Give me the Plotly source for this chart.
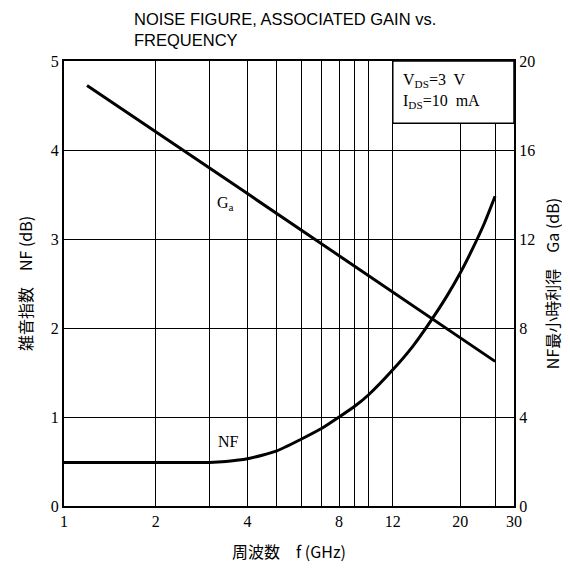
import math
import plotly.graph_objects as go

# ---- data ----
nf_freq = [1, 2, 3, 3.4, 4, 5, 6, 7, 8, 9, 10, 12, 14, 16, 18, 20, 22, 24, 26]
nf_db = [0.49, 0.49, 0.49, 0.5, 0.53, 0.62, 0.75, 0.87, 1.0, 1.12, 1.25, 1.53,
         1.8, 2.08, 2.35, 2.62, 2.9, 3.18, 3.48]

ga_freq = [1.19, 2, 4, 8, 12, 20, 26]
ga_db = [18.9, 16.83, 14.04, 11.25, 9.62, 7.57, 6.5]

label_freq = [1, 2, 4, 8, 12, 20, 30]
extra_grid_freq = [3, 5, 6, 7, 9, 10, 26]
nf_ticks = [0, 1, 2, 3, 4, 5]
ga_ticks = [0, 4, 8, 12, 16, 20]

SERIF = "Liberation Serif, DejaVu Serif, serif"
SANS = "Liberation Sans, Arial, sans-serif"
JP = "Noto Sans CJK JP, sans-serif"

fig = go.Figure()
fig.add_trace(go.Scatter(x=nf_freq, y=nf_db, mode='lines', yaxis='y',
                         line=dict(color='black', width=3, shape='spline', smoothing=0.6),
                         showlegend=False, hoverinfo='skip'))
fig.add_trace(go.Scatter(x=ga_freq, y=ga_db, mode='lines', yaxis='y2',
                         line=dict(color='black', width=3),
                         showlegend=False, hoverinfo='skip'))

fig.update_layout(
    width=562, height=560,
    margin=dict(l=56, r=56, t=53, b=62),
    paper_bgcolor='white', plot_bgcolor='white',
    xaxis=dict(type='log', range=[0, math.log10(30)], tickmode='array',
               tickvals=label_freq, ticktext=[str(v) for v in label_freq],
               showgrid=True, gridcolor='black', gridwidth=1.3,
               minor=dict(tickmode='array', tickvals=extra_grid_freq, showgrid=True,
                          gridcolor='black', gridwidth=1.3, ticks=''),
               showline=True, linecolor='black', linewidth=2, mirror=True,
               ticks='', tickfont=dict(family=SERIF, size=16, color='black'),
               title=dict(text='周波数　f (GHz)', font=dict(family=JP, size=16, color='black'),
                          standoff=18),
               automargin=False, zeroline=False),
    yaxis=dict(range=[0, 5], tickvals=nf_ticks, showgrid=True, gridcolor='black', gridwidth=1.3,
               showline=True, linecolor='black', linewidth=2, ticks='',
               tickfont=dict(family=SERIF, size=16, color='black'),
               title=dict(text='雑音指数　NF (dB)', font=dict(family=JP, size=16, color='black'),
                          standoff=14),
               automargin=False, zeroline=False),
    yaxis2=dict(range=[0, 20], tickvals=ga_ticks, overlaying='y', side='right',
                showgrid=False, showline=True, linecolor='black', linewidth=2, ticks='',
                tickfont=dict(family=SERIF, size=16, color='black'),
                title=dict(text='NF最小時利得　Ga (dB)', font=dict(family=JP, size=16, color='black'),
                           standoff=14),
                automargin=False, zeroline=False),
)

# condition box (covers grid in the upper right corner)
fig.add_shape(type='rect', xref='x', yref='y', x0=12, x1=30, y0=4.3, y1=5,
              line=dict(color='black', width=1.5), fillcolor='white', layer='above')

fig.add_annotation(xref='x', yref='y', x=math.log10(12.8), y=4.66, xanchor='left', yanchor='middle',
                   text='V<sub>DS</sub>=3  V<br>I<sub>DS</sub>=10  mA', showarrow=False,
                   align='left', font=dict(family=SERIF, size=16, color='black'))

fig.add_annotation(xref='x', yref='y', x=math.log10(3.39), y=3.4, text='G<sub>a</sub>',
                   showarrow=False, font=dict(family=SERIF, size=16, color='black'))
fig.add_annotation(xref='x', yref='y', x=math.log10(3.46), y=0.72, text='NF', showarrow=False,
                   font=dict(family=SERIF, size=16, color='black'))

fig.add_annotation(xref='paper', yref='paper', x=(124 - 56) / 450, y=1 + (53 - 0) / 445,
                   xanchor='left', yanchor='top', align='left', showarrow=False,
                   text='NOISE FIGURE, ASSOCIATED GAIN vs.<br>FREQUENCY',
                   font=dict(family=SANS, size=16.5, color='black'))

fig.write_html("out.html")
